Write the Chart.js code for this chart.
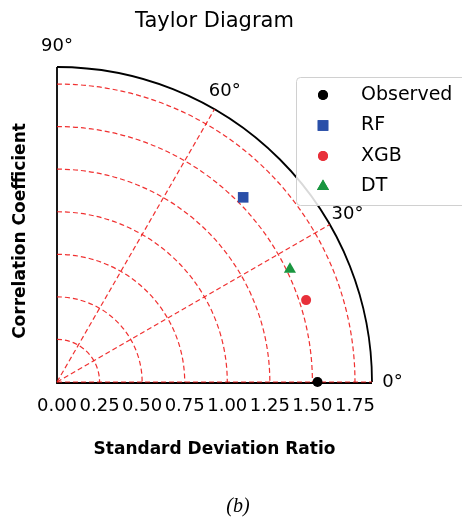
<!DOCTYPE html>
<html>
<head>
<meta charset="utf-8">
<script src="https://cdn.jsdelivr.net/npm/chart.js@4.4.1/dist/chart.umd.min.js"></script>
<style>
  body { margin: 0; background: #fff; }
  canvas { display: block; }
</style>
</head>
<body>
<canvas id="taylor" width="462" height="517"></canvas>
<script>
// data
const models = ['Observed', 'RF', 'XGB', 'DT'];
const stdRatio = [1.53, 1.54, 1.54, 1.52];
const corrCoef = [1.00, 0.71, 0.95, 0.90];
const stdTicks = [0, 0.25, 0.5, 0.75, 1.0, 1.25, 1.5, 1.75];
const angleTicks = [0, 30, 60, 90];

const colors = ['#000000', '#2a4fa8', '#e8303a', '#1a9640'];
const shapes = ['circle', 'rect', 'circle', 'triangle'];
const sizes = [5, 7.5, 5, 7];

const RMAX = 1.85;
const YMAX = RMAX * 302 / 315;

Chart.defaults.font.family = 'DejaVu Sans';
Chart.defaults.color = '#000';

const datasets = models.map((m, i) => {
    const c = corrCoef[i];
    const s = stdRatio[i];
    return {
        label: m,
        data: [{ x: s * c, y: s * Math.sqrt(1 - c * c) }],
        backgroundColor: colors[i],
        borderColor: colors[i],
        borderWidth: 0,
        pointStyle: shapes[i],
        pointRadius: sizes[i],
        clip: false
    };
});

const taylorGrid = {
    id: 'taylorGrid',
    beforeDatasetsDraw(chart) {
        const { ctx, scales: { x, y } } = chart;
        const cx = x.getPixelForValue(0), cy = y.getPixelForValue(0);
        const k = x.getPixelForValue(1) - cx;
        ctx.save();
        // solid frame
        ctx.strokeStyle = '#000';
        ctx.lineWidth = 1.8;
        ctx.beginPath();
        ctx.moveTo(cx, cy - RMAX * k);
        ctx.lineTo(cx, cy + 1);
        ctx.lineTo(cx + RMAX * k, cy + 1);
        ctx.stroke();
        ctx.beginPath();
        ctx.arc(cx, cy, RMAX * k, -Math.PI / 2, 0);
        ctx.stroke();
        // dashed red grid
        ctx.strokeStyle = 'rgba(238,25,25,0.9)';
        ctx.lineWidth = 1.2;
        ctx.setLineDash([5, 3]);
        stdTicks.slice(1).forEach(r => {
            ctx.beginPath();
            ctx.arc(cx, cy, r * k, -Math.PI / 2, 0);
            ctx.stroke();
        });
        angleTicks.slice(0, 3).forEach(a => {
            const t = a * Math.PI / 180;
            ctx.beginPath();
            ctx.moveTo(cx, cy);
            ctx.lineTo(cx + RMAX * k * Math.cos(t), cy - RMAX * k * Math.sin(t));
            ctx.stroke();
        });
        ctx.setLineDash([]);
        // angle labels
        ctx.fillStyle = '#000';
        ctx.font = '18px "DejaVu Sans"';
        ctx.textAlign = 'center';
        ctx.textBaseline = 'middle';
        angleTicks.forEach(a => {
            const t = a * Math.PI / 180;
            ctx.fillText(a + '°', cx + 1.97 * k * Math.cos(t), cy - 1.97 * k * Math.sin(t));
        });
        ctx.restore();
    },
    afterDraw(chart) {
        const { ctx } = chart;
        ctx.save();
        // legend box
        ctx.fillStyle = 'rgba(255,255,255,0.85)';
        ctx.strokeStyle = '#d0d0d0';
        ctx.lineWidth = 1;
        ctx.beginPath();
        ctx.roundRect(296.5, 77.5, 200, 128, 4);
        ctx.fill();
        ctx.stroke();
        ctx.font = '19px "DejaVu Sans"';
        ctx.textAlign = 'left';
        ctx.textBaseline = 'middle';
        chart.data.datasets.forEach((ds, i) => {
            const yy = 95 + i * 30.5;
            ctx.fillStyle = ds.backgroundColor;
            Chart.helpers.drawPoint(ctx, { pointStyle: ds.pointStyle, radius: ds.pointRadius, borderWidth: 0 }, 323, yy);
            ctx.fill();
            ctx.fillStyle = '#000';
            ctx.fillText(ds.label, 361, yy);
        });
        // caption
        ctx.font = 'italic 20px "Liberation Serif"';
        ctx.textAlign = 'center';
        ctx.fillText('(b)', 238, 507);
        ctx.restore();
    }
};

new Chart(document.getElementById('taylor'), {
    type: 'scatter',
    data: { datasets },
    options: {
        responsive: false,
        animation: false,
        layout: { padding: { left: 0, top: 0, right: 90, bottom: 0 } },
        plugins: {
            legend: { display: false },
            tooltip: { enabled: false },
            title: {
                display: true,
                text: 'Taylor Diagram',
                fullSize: false,
                font: { size: 21, weight: 'normal' },
                padding: { top: 9.4, bottom: 45.4 }
            }
        },
        scales: {
            x: {
                type: 'linear',
                min: 0,
                max: RMAX,
                grid: { display: false, drawTicks: false },
                border: { display: false },
                afterBuildTicks: s => { s.ticks = stdTicks.map(v => ({ value: v })); },
                afterFit: s => { s.height = 135; },
                ticks: {
                    autoSkip: false,
                    maxRotation: 0,
                    minRotation: 0,
                    padding: 14,
                    font: { size: 18 },
                    callback: v => Number(v).toFixed(2)
                },
                title: {
                    display: true,
                    text: 'Standard Deviation Ratio',
                    font: { size: 17, weight: 'bold' },
                    padding: { top: 0, bottom: 57 }
                }
            },
            y: {
                type: 'linear',
                min: 0,
                max: YMAX,
                grid: { display: false, drawTicks: false },
                border: { display: false },
                ticks: { display: false },
                afterFit: s => { s.width = 57; },
                title: {
                    display: true,
                    text: 'Correlation Coefficient',
                    font: { size: 17, weight: 'bold' },
                    padding: { top: 10, bottom: 0 }
                }
            }
        }
    },
    plugins: [taylorGrid]
});
</script>
</body>
</html>
